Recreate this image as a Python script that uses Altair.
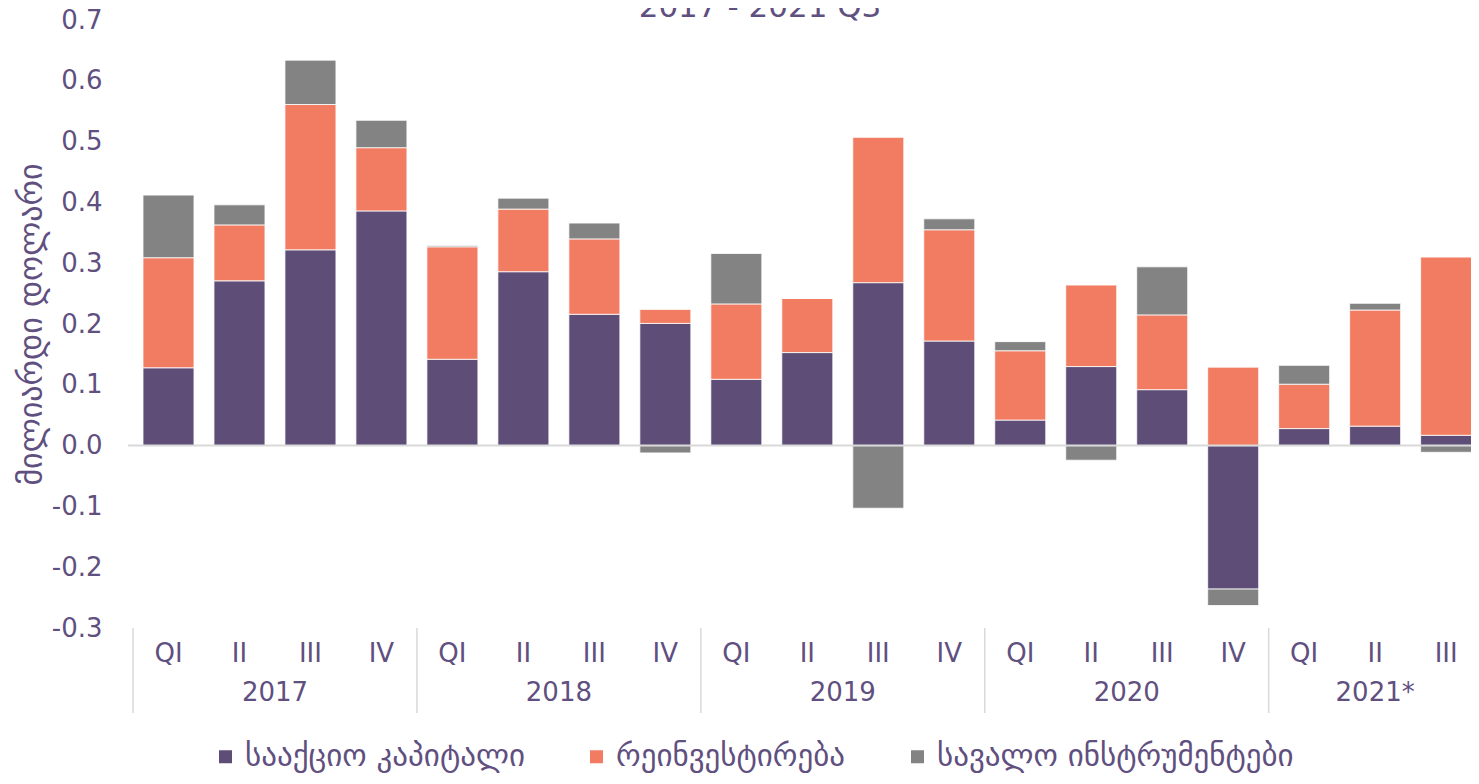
import altair as alt
import pandas as pd

# ---- data ----
quarters = ["QI", "II", "III", "IV"] * 4 + ["QI", "II", "III"]
years = ["2017"] * 4 + ["2018"] * 4 + ["2019"] * 4 + ["2020"] * 4 + ["2021*"] * 3
series = ["სააქციო კაპიტალი", "რეინვესტირება", "სავალო ინსტრუმენტები"]
equity = [0.128, 0.271, 0.322, 0.386, 0.142, 0.286, 0.216, 0.201, 0.109, 0.153,
          0.268, 0.172, 0.042, 0.130, 0.092, -0.236, 0.028, 0.032, 0.017]
reinvest = [0.181, 0.092, 0.239, 0.104, 0.185, 0.103, 0.124, 0.023, 0.124, 0.089,
            0.239, 0.183, 0.114, 0.134, 0.123, 0.129, 0.073, 0.191, 0.293]
debt = [0.103, 0.033, 0.073, 0.045, 0.002, 0.018, 0.026, -0.012, 0.083, 0.0,
        -0.103, 0.018, 0.015, -0.024, 0.079, -0.027, 0.031, 0.011, -0.011]
y_ticks = [-0.3, -0.2, -0.1, 0.0, 0.1, 0.2, 0.3, 0.4, 0.5, 0.6, 0.7]
title_text = "2017 - 2021 Q3"
y_title = "მილიარდი დოლარი"

colors = ["#5e4e77", "#f27c61", "#838383"]
TXT = "#5f5080"
GRID = "#d9d9d9"
FONT = "DejaVu Sans"
W, H = 1343, 608
PL = 120

rows = []
for i in range(len(quarters)):
    for k, vals in enumerate([equity, reinvest, debt]):
        rows.append({"idx": i, "series": series[k], "ord": k, "value": vals[i]})
df = pd.DataFrame(rows)

qdf = pd.DataFrame({"idx": list(range(len(quarters))), "q": quarters, "year": years})
ydf = qdf.groupby("year", as_index=False).agg(idx=("idx", "mean"), first=("idx", "min"))
sep = pd.DataFrame({"idx": [f - 0.5 for f in ydf["first"]]})

# the reference's plot area runs slightly past the right edge of the picture
xscale = alt.Scale(domain=[-0.5, len(quarters) - 0.72], nice=False, zero=False)
yscale = alt.Scale(domain=[-0.3, 0.7], nice=False, zero=False)

bars = alt.Chart(df).mark_bar(width=51, stroke="#ffffff", strokeWidth=0.8).encode(
    x=alt.X("idx:Q", scale=xscale, axis=None),
    y=alt.Y("value:Q", stack="zero", scale=yscale,
            axis=alt.Axis(values=y_ticks, title=y_title, grid=False, ticks=False, domain=False,
                          labelExpr="datum.value < 0 ? '-' + format(-datum.value, '.1f') : format(datum.value, '.1f')",
                          labelFontSize=26, labelColor=TXT, labelFont=FONT, labelPadding=26,
                          titleFontSize=32, titleColor=TXT, titleFont=FONT, titleFontWeight="normal",
                          titlePadding=3)),
    color=alt.Color("series:N", scale=alt.Scale(domain=series, range=colors),
                    legend=alt.Legend(title=None, orient="none", legendX=82, legendY=721,
                                      direction="horizontal", symbolType="square", symbolSize=169,
                                      symbolStrokeWidth=0, labelFontSize=31, labelFont=FONT,
                                      labelColor=TXT, columnPadding=56, labelOffset=4,
                                      padding=0, labelLimit=0)),
    order=alt.Order("ord:Q"),
)

zero = alt.Chart(pd.DataFrame({"value": [0.0]})).mark_rule(color=GRID, strokeWidth=2).encode(
    y=alt.Y("value:Q", scale=yscale), x=alt.value(0), x2=alt.value(W))

seps = alt.Chart(sep).mark_rule(color=GRID, strokeWidth=1.5).encode(
    x=alt.X("idx:Q", scale=xscale), y=alt.value(608), y2=alt.value(693))

qlab = alt.Chart(qdf).mark_text(fontSize=26, font=FONT, color=TXT, baseline="middle").encode(
    x=alt.X("idx:Q", scale=xscale), y=alt.value(634), text="q:N")

ylab = alt.Chart(ydf).mark_text(fontSize=26, font=FONT, color=TXT, baseline="middle").encode(
    x=alt.X("idx:Q", scale=xscale), y=alt.value(673), text="year:N")

ttl = alt.Chart(pd.DataFrame({"t": [title_text]})).mark_text(
    fontSize=31, font=FONT, color=TXT, baseline="alphabetic").encode(
    x=alt.value(632), y=alt.value(-3), text="t:N")

chart = alt.layer(bars, zero, seps, qlab, ylab, ttl).properties(
    width=W, height=H,
    autosize=alt.AutoSizeParams(type="none"),
    padding={"left": PL, "top": 12, "right": 0, "bottom": 148},
).configure_view(stroke=None)

chart.save("out.html", embed_options={"renderer": "svg", "actions": False})
